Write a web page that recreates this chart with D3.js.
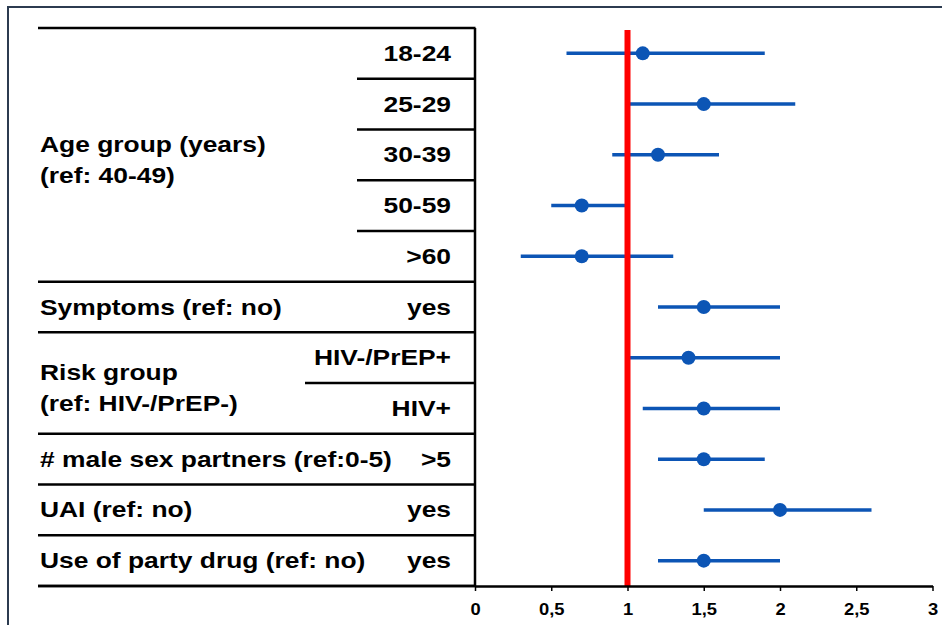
<!DOCTYPE html>
<html>
<head>
<meta charset="utf-8">
<script src="https://cdn.jsdelivr.net/npm/d3@7"></script>
<style>
  body { margin: 0; background: #fff; }
  svg { display: block; font-family: Arial, "Liberation Sans", sans-serif; font-weight: bold; }
</style>
</head>
<body>
<svg id="chart" width="942" height="625"></svg>
<script>

// one entry per row, top to bottom
const levels = ['18-24', '25-29', '30-39', '50-59', '>60', 'yes', 'HIV-/PrEP+', 'HIV+', '>5', 'yes', 'yes'];
const estimate = [1.1, 1.5, 1.2, 0.7, 0.7, 1.5, 1.4, 1.5, 1.5, 2.0, 1.5];
const lower = [0.6, 1.0, 0.9, 0.5, 0.3, 1.2, 1.0, 1.1, 1.2, 1.5, 1.2];
const upper = [1.9, 2.1, 1.6, 1.0, 1.3, 2.0, 2.0, 2.0, 1.9, 2.6, 2.0];

const groupLabels = [
  ['Age group (years)', '(ref: 40-49)'],
  ['Symptoms (ref: no)'],
  ['Risk group', '(ref: HIV-/PrEP-)'],
  ['# male sex partners (ref:0-5)'],
  ['UAI (ref: no)'],
  ['Use of party drug (ref: no)']
];
const groupSizes = [5, 1, 2, 1, 1, 1];

const tickValues = [0, 0.5, 1, 1.5, 2, 2.5, 3];
const refValue = 1;

const blue = '#0c55b5';
const svg = d3.select('#chart');

const x = d3.scaleLinear().domain([0, 3]).range([475, 932.5]);
const y = d3.scaleBand().domain(d3.range(levels.length)).range([28, 586]);
const bw = y.bandwidth();
const mid = i => y(i) + bw / 2;

const tableLeft = 38, tableRight = 475.5;
// where the thin separators inside a multi row group start
const subLineX = [357, null, 305, null, null, null];

// frame round the picture
svg.append('rect')
  .attr('x', 8).attr('y', 7).attr('width', 1000).attr('height', 1000)
  .attr('fill', 'none').attr('stroke', '#2c3b50').attr('stroke-width', 2);

const label = (txt, tx, ty, anchor) =>
  svg.append('text')
    .attr('transform', `translate(${tx},${ty}) scale(1.2,1)`)
    .attr('text-anchor', anchor)
    .style('font-size', '22px')
    .text(txt);

const table = svg.append('g').attr('stroke', '#000').attr('stroke-width', 2.5);

table.append('line').attr('x1', tableLeft).attr('x2', tableRight).attr('y1', y(0)).attr('y2', y(0));
table.append('line').attr('x1', 475).attr('x2', 475).attr('y1', y(0)).attr('y2', y.range()[1]);

const starts = [0, ...d3.cumsum(groupSizes)];

groupLabels.forEach((lines, g) => {
  const s = starts[g], e = starts[g + 1];
  const bottom = y(e - 1) + bw;
  table.append('line').attr('x1', tableLeft).attr('x2', tableRight).attr('y1', bottom).attr('y2', bottom);
  for (let i = s + 1; i < e; i++) {
    table.append('line').attr('x1', subLineX[g]).attr('x2', tableRight).attr('y1', y(i)).attr('y2', y(i));
  }
  const c = (y(s) + bottom) / 2;
  if (lines.length === 1) {
    label(lines[0], 40, c + 7.5, 'start');
  } else {
    label(lines[0], 40, c - 3, 'start');
    label(lines[1], 40, c + 28, 'start');
  }
});

levels.forEach((lv, i) => label(lv, 451, mid(i) + 7.5, 'end'));

// confidence intervals
svg.append('g').selectAll('line')
  .data(levels)
  .join('line')
  .attr('x1', (d, i) => x(lower[i]))
  .attr('x2', (d, i) => x(upper[i]))
  .attr('y1', (d, i) => mid(i))
  .attr('y2', (d, i) => mid(i))
  .attr('stroke', blue)
  .attr('stroke-width', 3.5);

svg.append('line')
  .attr('x1', x(refValue)).attr('x2', x(refValue))
  .attr('y1', 30).attr('y2', y.range()[1])
  .attr('stroke', '#ff0000').attr('stroke-width', 6);

svg.append('g').selectAll('circle')
  .data(estimate)
  .join('circle')
  .attr('cx', d => x(d))
  .attr('cy', (d, i) => mid(i))
  .attr('r', 7)
  .attr('fill', blue);

const fmt = d3.formatLocale({ decimal: ',', thousands: '.', grouping: [3], currency: ['', ''] }).format('~g');

const axis = d3.axisBottom(x).tickValues(tickValues).tickFormat(fmt)
  .tickSize(5).tickSizeOuter(0).tickPadding(12);

const gx = svg.append('g')
  .attr('transform', `translate(0,${y.range()[1]})`)
  .call(axis)
  .attr('font-family', null).attr('font-size', null);

gx.select('.domain').attr('stroke', '#000').attr('stroke-width', 2.5);
gx.selectAll('.tick line').attr('stroke', '#000').attr('stroke-width', 1.5);
gx.selectAll('.tick text')
  .attr('fill', '#000')
  .attr('transform', 'scale(1.08,1)')
  .style('font-size', '17px');

svg.append('line')
  .attr('x1', tableLeft).attr('x2', tableRight)
  .attr('y1', y.range()[1]).attr('y2', y.range()[1])
  .attr('stroke', '#000').attr('stroke-width', 2.5);

</script>
</body>
</html>
